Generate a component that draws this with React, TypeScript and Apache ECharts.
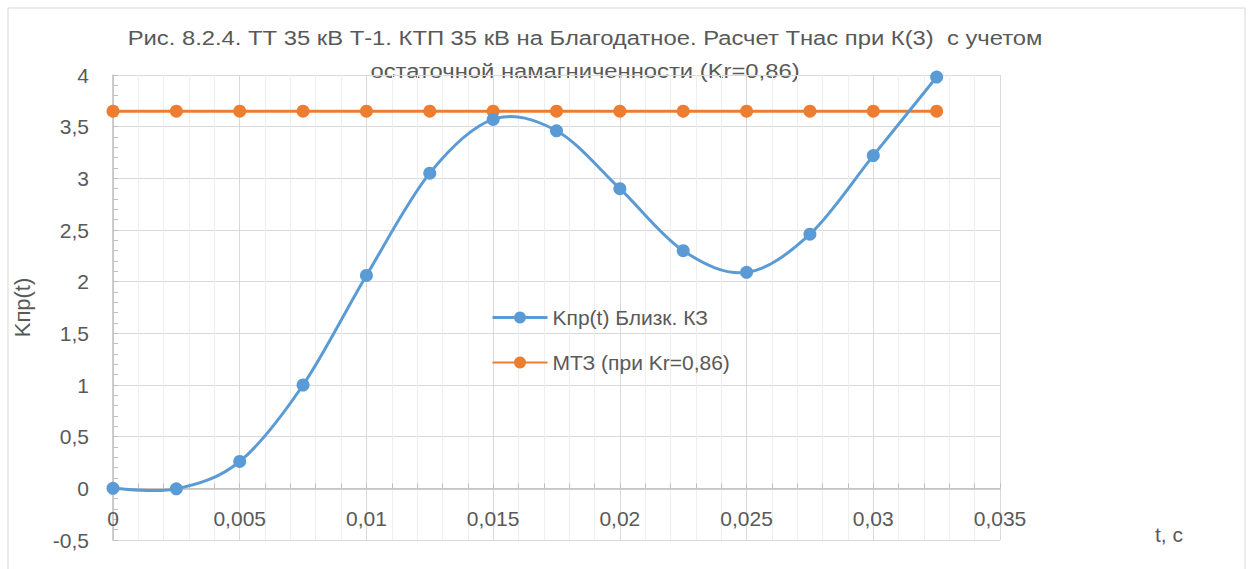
import React, { useEffect, useRef } from "react";
import * as echarts from "echarts";

// Time points, s
const times: number[] = [0, 0.0025, 0.005, 0.0075, 0.01, 0.0125, 0.015, 0.0175, 0.02, 0.0225, 0.025, 0.0275, 0.03, 0.0325];
// Kпр(t) for close fault
const kprValues: number[] = [0, -0.005, 0.26, 1.0, 2.06, 3.05, 3.57, 3.46, 2.9, 2.3, 2.09, 2.46, 3.22, 3.98];
// Overcurrent protection level at Kr=0,86
const mtzValues: number[] = [3.65, 3.65, 3.65, 3.65, 3.65, 3.65, 3.65, 3.65, 3.65, 3.65, 3.65, 3.65, 3.65, 3.65];

const seriesNames = ["Kпр(t) Близк. КЗ", "МТЗ (при Kr=0,86)"];
const titleLines = [
  "Рис. 8.2.4. ТТ 35 кВ Т-1. КТП 35 кВ на Благодатное. Расчет Тнас при К(3)  с учетом",
  "остаточной намагниченности (Kr=0,86)",
];
const yAxisTitle = "Kпр(t)";
const xAxisTitle = "t, c";

const FONT = "'Liberation Sans', Arial, sans-serif";
const TEXT = "#595959";
const BLUE = "#5B9BD5";
const ORANGE = "#ED7D31";

const fmt = (v: number) => String(Number(v.toFixed(4))).replace(".", ",");

// Smooth curve through pixel points (cardinal spline, 1/6 control offsets)
function smoothPath(pts: number[][]): string {
  if (pts.length < 2) return "";
  let d = `M${pts[0][0]},${pts[0][1]}`;
  for (let i = 0; i < pts.length - 1; i++) {
    const p0 = pts[i - 1] || pts[i];
    const p1 = pts[i];
    const p2 = pts[i + 1];
    const p3 = pts[i + 2] || p2;
    const c1x = p1[0] + (p2[0] - p0[0]) / 6;
    const c1y = p1[1] + (p2[1] - p0[1]) / 6;
    const c2x = p2[0] - (p3[0] - p1[0]) / 6;
    const c2y = p2[1] - (p3[1] - p1[1]) / 6;
    d += ` C${c1x},${c1y} ${c2x},${c2y} ${p2[0]},${p2[1]}`;
  }
  return d;
}

export default function App() {
  const ref = useRef<HTMLDivElement>(null);

  useEffect(() => {
    if (!ref.current) return;
    const chart = echarts.init(ref.current, undefined, { renderer: "svg" });
    const kprData = times.map((t, i) => [t, kprValues[i]]);
    chart.setOption({
      animation: false,
      backgroundColor: "#ffffff",
      textStyle: { fontFamily: FONT },
      graphic: [
        {
          type: "rect",
          shape: { x: 8, y: 8, width: 1237, height: 620 },
          style: { fill: "none", stroke: "#d9d9d9", lineWidth: 1 },
          silent: true,
        },
        {
          type: "text",
          x: 585,
          y: 38,
          scaleX: 1.19,
          style: { text: titleLines[0], align: "center", verticalAlign: "middle", font: `20px ${FONT}`, fill: TEXT },
        },
        {
          type: "text",
          x: 585,
          y: 71,
          scaleX: 1.19,
          style: { text: titleLines[1], align: "center", verticalAlign: "middle", font: `20px ${FONT}`, fill: TEXT },
        },
        {
          type: "text",
          x: 1169,
          y: 534,
          style: { text: xAxisTitle, align: "center", verticalAlign: "middle", font: `21px ${FONT}`, fill: TEXT },
        },
      ],
      legend: {
        orient: "vertical",
        left: 486,
        top: 302,
        itemWidth: 55,
        itemHeight: 15,
        itemGap: 24,
        textStyle: { fontSize: 21, lineHeight: 21, color: TEXT, fontFamily: FONT },
        data: [
          { name: seriesNames[0], lineStyle: { color: BLUE, width: 3, opacity: 1 } },
          { name: seriesNames[1] },
        ],
      },
      grid: { left: 113, right: 250, top: 75, bottom: 29, containLabel: false, outerBoundsMode: "none" },
      xAxis: {
        type: "value",
        min: 0,
        max: 0.035,
        interval: 0.005,
        axisLine: { onZero: true, lineStyle: { color: "#bfbfbf", width: 1.5 } },
        axisTick: { show: true, inside: true, length: 5, lineStyle: { color: "#bfbfbf" } },
        minorTick: { show: true, splitNumber: 5, length: 5, lineStyle: { color: "#bfbfbf" } },
        axisLabel: { formatter: fmt, color: TEXT, fontSize: 21, fontFamily: FONT, margin: -32 },
        splitLine: { show: true, lineStyle: { color: "#d9d9d9", width: 1 } },
        minorSplitLine: { show: true, lineStyle: { color: "#efefef", width: 1 } },
      },
      yAxis: {
        type: "value",
        min: -0.5,
        max: 4,
        interval: 0.5,
        name: yAxisTitle,
        nameLocation: "middle",
        nameGap: 80,
        nameRotate: 90,
        nameTextStyle: { fontSize: 22, color: TEXT, fontFamily: FONT },
        axisLine: { show: true, lineStyle: { color: "#bfbfbf", width: 1.5 } },
        axisTick: { show: true, inside: true, length: 5, lineStyle: { color: "#bfbfbf" } },
        minorTick: { show: true, splitNumber: 5, length: 5, lineStyle: { color: "#bfbfbf" } },
        axisLabel: { formatter: fmt, color: TEXT, fontSize: 21, fontFamily: FONT, margin: 24 },
        splitLine: { show: true, lineStyle: { color: "#d9d9d9", width: 1 } },
      },
      series: [
        {
          // smooth curve of Kпр(t), drawn through the axis scales
          type: "custom",
          name: "kpr-curve",
          data: kprData,
          encode: { x: 0, y: 1 },
          z: 3,
          silent: true,
          renderItem: (params: any, api: any) => {
            if (params.dataIndex !== 0) return null;
            const pts = kprData.map((p) => api.coord(p));
            return {
              type: "path",
              shape: { pathData: smoothPath(pts) },
              style: { stroke: BLUE, lineWidth: 3, fill: "none" },
            };
          },
        },
        {
          name: seriesNames[0],
          type: "line",
          data: kprData,
          symbol: "circle",
          symbolSize: 13,
          lineStyle: { color: BLUE, width: 3, opacity: 0 },
          itemStyle: { color: BLUE },
          z: 4,
        },
        {
          name: seriesNames[1],
          type: "line",
          data: times.map((t, i) => [t, mtzValues[i]]),
          symbol: "circle",
          symbolSize: 13,
          lineStyle: { color: ORANGE, width: 3 },
          itemStyle: { color: ORANGE },
          z: 2,
        },
      ],
    });
    return () => chart.dispose();
  }, []);

  return (
    <div
      ref={ref}
      style={{ position: "fixed", left: 0, top: 0, width: 1250, height: 569 }}
    />
  );
}
